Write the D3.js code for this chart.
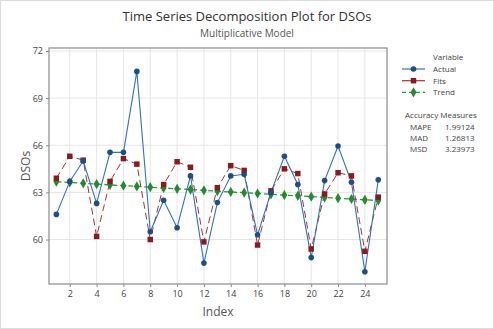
<!DOCTYPE html>
<html>
<head>
<meta charset="utf-8">
<script src="https://cdn.jsdelivr.net/npm/d3@7"></script>
<style>
  html, body { margin: 0; padding: 0; background: #fff; }
  svg { display: block; font-family: "Open Sans", "Noto Sans", sans-serif; }
</style>
</head>
<body>
<svg id="chart" width="494" height="329"></svg>
<script>
// Time index 1..25
const indexValues = d3.range(1, 26);

// Observed DSO values
const actual = [61.6, 63.7, 65.0, 62.3, 65.55, 65.55, 70.7, 60.5, 62.5, 60.75,
                64.05, 58.5, 62.35, 64.05, 64.15, 60.3, 63.0, 65.3, 63.5, 58.85,
                63.75, 65.95, 63.65, 57.95, 63.8];

// Fitted values of the multiplicative model
const fits = [63.9, 65.3, 65.05, 60.2, 63.7, 65.15, 64.8, 60.0, 63.5, 64.95,
              64.6, 59.85, 63.3, 64.7, 64.4, 59.65, 63.1, 64.5, 64.2, 59.4,
              62.9, 64.25, 64.05, 59.25, 62.7];

// Trend component
const trend = [63.68, 63.63, 63.58, 63.53, 63.48, 63.43, 63.38, 63.33, 63.28, 63.23,
               63.18, 63.13, 63.08, 63.03, 62.98, 62.93, 62.88, 62.83, 62.78, 62.73,
               62.68, 62.63, 62.58, 62.53, 62.48];

const xTicks = [2, 4, 6, 8, 10, 12, 14, 16, 18, 20, 22, 24];
const yTicks = [60, 63, 66, 69, 72];

const accuracyNames = ["MAPE", "MAD", "MSD"];
const accuracyValues = ["1.99124", "1.26813", "3.23973"];

const seriesNames = ["Actual", "Fits", "Trend"];

const svg = d3.select("#chart");
const W = 494, H = 329;
const plot = { left: 49, right: 387, top: 48, bottom: 284 };

// Outer figure border
svg.append("rect").attr("x", 0.5).attr("y", 0.5).attr("width", W - 1).attr("height", H - 1)
  .attr("fill", "#fff").attr("stroke", "#dcdcdc");

const x = d3.scaleLinear().domain([0.45, 25.65]).range([plot.left, plot.right]);
const y = d3.scaleLinear().domain([57.17, 72.19]).range([plot.bottom, plot.top]);

// Gridlines
const grid = svg.append("g");
grid.selectAll(".vg").data(xTicks).join("line")
  .attr("x1", d => x(d)).attr("x2", d => x(d))
  .attr("y1", plot.top).attr("y2", plot.bottom)
  .attr("stroke", "#e6e6e6").attr("stroke-width", 1);
grid.selectAll(".hg").data(yTicks).join("line")
  .attr("x1", plot.left).attr("x2", plot.right)
  .attr("y1", d => y(d)).attr("y2", d => y(d))
  .attr("stroke", "#e6e6e6").attr("stroke-width", 1);

// Axes
const xAxis = d3.axisBottom(x).tickValues(xTicks).tickSize(3).tickPadding(4).tickFormat(d3.format("d"));
const yAxis = d3.axisLeft(y).tickValues(yTicks).tickSize(3).tickPadding(3).tickFormat(d3.format("d"));

const gx = svg.append("g").attr("transform", `translate(0,${plot.bottom})`).call(xAxis);
const gy = svg.append("g").attr("transform", `translate(${plot.left},0)`).call(yAxis);
[gx, gy].forEach(g => {
  g.select(".domain").remove();
  g.selectAll(".tick line").attr("stroke", "#888");
  g.selectAll(".tick text").attr("fill", "#444").style("font-size", "9px")
    .style("font-family", "'Open Sans', sans-serif");
});

// Plot frame
svg.append("rect")
  .attr("x", plot.left).attr("y", plot.top)
  .attr("width", plot.right - plot.left).attr("height", plot.bottom - plot.top)
  .attr("fill", "none").attr("stroke", "#8c8c8c").attr("stroke-width", 1.2);

// Series
const colors = {
  actualLine: "#2f74b5", actualMark: "#1b4f86",
  fitsLine: "#a83232", fitsMark: "#8b1a1f",
  trendLine: "#2f9a3a", trendMark: "#238a2e"
};

const line = d3.line().x((d, i) => x(indexValues[i])).y(d => y(d));

svg.append("path").datum(trend).attr("d", line)
  .attr("fill", "none").attr("stroke", colors.trendLine).attr("stroke-width", 1.3)
  .attr("stroke-dasharray", "5,3");
svg.append("path").datum(fits).attr("d", line)
  .attr("fill", "none").attr("stroke", colors.fitsLine).attr("stroke-width", 1)
  .attr("stroke-dasharray", "7,4");
svg.append("path").datum(actual).attr("d", line)
  .attr("fill", "none").attr("stroke", colors.actualLine).attr("stroke-width", 1.1);

const diamond = d3.symbol().type(d3.symbolDiamond).size(30);
const square = d3.symbol().type(d3.symbolSquare).size(30);

svg.append("g").selectAll("path").data(trend).join("path")
  .attr("d", diamond)
  .attr("transform", (d, i) => `translate(${x(indexValues[i])},${y(d)})`)
  .attr("fill", colors.trendMark);
svg.append("g").selectAll("path").data(fits).join("path")
  .attr("d", square)
  .attr("transform", (d, i) => `translate(${x(indexValues[i])},${y(d)})`)
  .attr("fill", colors.fitsMark);
svg.append("g").selectAll("circle").data(actual).join("circle")
  .attr("cx", (d, i) => x(indexValues[i])).attr("cy", d => y(d)).attr("r", 2.8)
  .attr("fill", colors.actualMark);

// Titles
svg.append("text").attr("x", 247).attr("y", 21).attr("text-anchor", "middle")
  .attr("fill", "#333").style("font-size", "13px").text("Time Series Decomposition Plot for DSOs");
svg.append("text").attr("x", 247).attr("y", 37).attr("text-anchor", "middle")
  .attr("fill", "#555").style("font-size", "10px").text("Multiplicative Model");

// Axis labels
svg.append("text").attr("x", 218).attr("y", 316).attr("text-anchor", "middle")
  .attr("fill", "#555").style("font-size", "12px").text("Index");
svg.append("text").attr("transform", "translate(30,166) rotate(-90)").attr("text-anchor", "middle")
  .attr("fill", "#555").style("font-size", "12px").text("DSOs");

// Legend
const leg = svg.append("g").style("font-size", "8px").attr("fill", "#444");
leg.append("text").attr("x", 433).attr("y", 59.5).text("Variable");
const legendY = [69, 80.7, 92.3];
const legendStyles = [
  { line: colors.actualLine, mark: colors.actualMark, dash: null, shape: "circle" },
  { line: colors.fitsLine, mark: colors.fitsMark, dash: null, shape: "square" },
  { line: colors.trendLine, mark: colors.trendMark, dash: "4,3", shape: "diamond" }
];
seriesNames.forEach((name, i) => {
  const st = legendStyles[i];
  const yy = legendY[i];
  leg.append("line").attr("x1", 402).attr("x2", 425).attr("y1", yy).attr("y2", yy)
    .attr("stroke", st.line).attr("stroke-width", 1.2)
    .attr("stroke-dasharray", st.dash);
  if (st.shape === "circle") {
    leg.append("circle").attr("cx", 413.5).attr("cy", yy).attr("r", 2.8).attr("fill", st.mark);
  } else {
    leg.append("path").attr("d", st.shape === "square" ? square : diamond)
      .attr("transform", `translate(413.5,${yy})`).attr("fill", st.mark);
  }
  leg.append("text").attr("x", 433).attr("y", yy + 3).text(name);
});

leg.append("text").attr("x", 405).attr("y", 118).text("Accuracy Measures");
accuracyNames.forEach((n, i) => {
  const yy = 130 + i * 10.8;
  leg.append("text").attr("x", 410).attr("y", yy).text(n);
  leg.append("text").attr("x", 445).attr("y", yy).text(accuracyValues[i]);
});
</script>
</body>
</html>
